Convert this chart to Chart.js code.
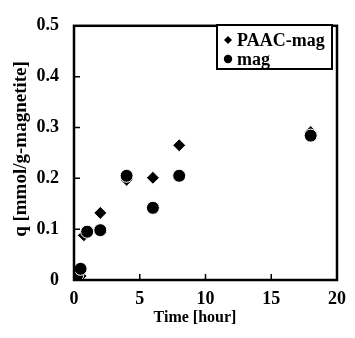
<!DOCTYPE html>
<html>
<head>
<meta charset="utf-8">
<script src="https://cdn.jsdelivr.net/npm/chart.js@4.4.0/dist/chart.umd.min.js"></script>
<style>
  html, body { margin: 0; padding: 0; background: #fff; }
  #wrap { width: 355px; height: 338px; }
</style>
</head>
<body>
<div id="wrap"><canvas id="myChart" width="355" height="338"></canvas></div>
<script>
// values
var paacTime = [0, 0.25, 0.5, 0.75, 2, 4, 6, 8, 18];
var paacQ = [0, 0.004, 0.008, 0.088, 0.132, 0.197, 0.201, 0.265, 0.291];
var magTime = [0, 0.25, 0.5, 1, 2, 4, 6, 8, 18];
var magQ = [0, 0.01, 0.022, 0.095, 0.098, 0.205, 0.142, 0.205, 0.284];
var xTicks = [0, 5, 10, 15, 20];
var yTicks = [0, 0.1, 0.2, 0.3, 0.4, 0.5];

var serif = "'Liberation Serif', 'Times New Roman', serif";

function toPoints(xs, ys) {
	var out = [];
	for (var i = 0; i < xs.length; i++) out.push({ x: xs[i], y: ys[i] });
	return out;
}

// frame, inward ticks, axis titles and the boxed legend
var decor = {
	id: 'decor',
	afterDraw: function(chart) {
		var c = chart.ctx, a = chart.chartArea;
		var xs = chart.scales.x, ys = chart.scales.y;
		c.save();
		c.strokeStyle = '#000';
		c.lineWidth = 2.5;
		c.strokeRect(a.left, a.top, a.right - a.left, a.bottom - a.top);

		c.lineWidth = 1.5;
		c.beginPath();
		xTicks.slice(1, -1).forEach(function(v) {
			var px = xs.getPixelForValue(v);
			c.moveTo(px, a.bottom);
			c.lineTo(px, a.bottom - 6);
		});
		yTicks.slice(1, -1).forEach(function(v) {
			var py = ys.getPixelForValue(v);
			c.moveTo(a.left, py);
			c.lineTo(a.left + 6, py);
		});
		c.stroke();

		c.fillStyle = '#000';
		c.textAlign = 'center';
		c.textBaseline = 'alphabetic';
		c.font = 'bold 16px ' + serif;
		c.fillText('Time [hour]', 195, 322);

		c.save();
		c.translate(21, 149);
		c.rotate(-Math.PI / 2);
		c.font = 'bold 19px ' + serif;
		c.textBaseline = 'middle';
		c.fillText('q [mmol/g-magnetite]', 0, 0);
		c.restore();

		// legend box
		var bx = 217, by = 25, bw = 115, bh = 44;
		c.fillStyle = '#fff';
		c.fillRect(bx, by, bw, bh);
		c.lineWidth = 2;
		c.strokeRect(bx, by, bw, bh);
		c.fillStyle = '#000';
		c.font = 'bold 18px ' + serif;
		c.textAlign = 'left';
		c.textBaseline = 'alphabetic';
		var rows = [40, 59];
		chart.data.datasets.forEach(function(ds, i) {
			var cy = rows[i], cx = 228;
			c.beginPath();
			if (ds.pointStyle === 'rectRot') {
				c.moveTo(cx, cy - 4);
				c.lineTo(cx + 4, cy);
				c.lineTo(cx, cy + 4);
				c.lineTo(cx - 4, cy);
				c.closePath();
			} else {
				c.arc(cx, cy, 4.2, 0, Math.PI * 2);
			}
			c.fill();
			c.fillText(ds.label, 237, cy + 6);
		});
		c.restore();
	}
};

var ctx = document.getElementById('myChart');
var myChart = new Chart(ctx, {
	type: 'scatter',
	data: {
		datasets: [{
			label: 'PAAC-mag',
			data: toPoints(paacTime, paacQ),
			pointStyle: 'rectRot',
			pointRadius: 6.5,
			backgroundColor: '#000',
			borderColor: '#fff',
			borderWidth: 1,
			order: 2
		}, {
			label: 'mag',
			data: toPoints(magTime, magQ),
			pointStyle: 'circle',
			pointRadius: 6.5,
			backgroundColor: '#000',
			borderColor: '#fff',
			borderWidth: 1,
			order: 1
		}]
	},
	options: {
		responsive: false,
		animation: false,
		events: [],
		layout: { padding: { left: 0, right: 12, top: 18, bottom: 0 } },
		plugins: {
			legend: { display: false },
			tooltip: { enabled: false }
		},
		scales: {
			x: {
				type: 'linear',
				min: 0,
				max: 20,
				afterFit: function(s) { s.height = 58; },
				afterBuildTicks: function(s) { s.ticks = xTicks.map(function(v) { return { value: v }; }); },
				grid: { display: false, drawTicks: false },
				border: { display: false },
				ticks: {
					padding: 9,
					color: '#000',
					font: { family: serif, size: 18, weight: 'bold' }
				}
			},
			y: {
				type: 'linear',
				min: 0,
				max: 0.5,
				afterFit: function(s) { s.width = 74; },
				afterBuildTicks: function(s) { s.ticks = yTicks.map(function(v) { return { value: v }; }); },
				grid: { display: false, drawTicks: false },
				border: { display: false },
				ticks: {
					padding: 15,
					color: '#000',
					font: { family: serif, size: 18, weight: 'bold' },
					callback: function(v) { return String(Math.round(v * 10) / 10); }
				}
			}
		}
	},
	plugins: [decor]
});
</script>
</body>
</html>
